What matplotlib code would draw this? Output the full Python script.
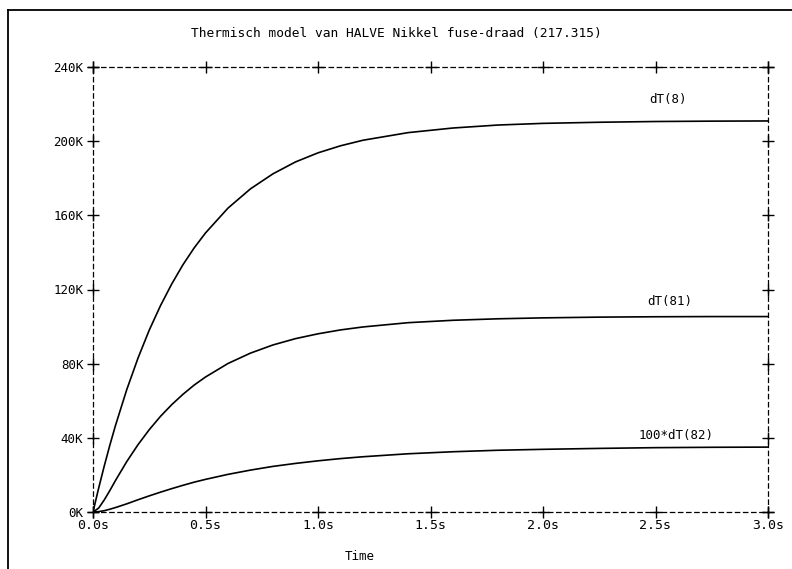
import matplotlib
matplotlib.use("Agg")
import matplotlib.pyplot as plt
from matplotlib.lines import Line2D

# ---- data ----
time_s = [0, 0.025, 0.05, 0.075, 0.1, 0.15, 0.2, 0.25, 0.3, 0.35, 0.4, 0.45, 0.5,
          0.6, 0.7, 0.8, 0.9, 1.0, 1.1, 1.2, 1.4, 1.6, 1.8, 2.0, 2.25, 2.5, 2.75, 3.0]
dT8 = [0, 12.8, 24.8, 36.1, 46.7, 66.0, 83.0, 98.1, 111.3, 123.0, 133.4, 142.5, 150.5,
       163.9, 174.3, 182.4, 188.8, 193.7, 197.5, 200.5, 204.6, 207.1, 208.7, 209.6,
       210.2, 210.6, 210.8, 210.9]
dT81 = [0, 2.1, 6.5, 11.6, 17.0, 27.2, 36.3, 44.4, 51.6, 57.9, 63.5, 68.5, 72.8,
        80.1, 85.7, 90.1, 93.5, 96.1, 98.2, 99.8, 102.1, 103.4, 104.2, 104.7,
        105.1, 105.3, 105.4, 105.4]
dT82x100 = [0, 0.2, 0.7, 1.5, 2.4, 4.4, 6.6, 8.7, 10.7, 12.6, 14.4, 16.1, 17.6,
            20.3, 22.6, 24.6, 26.2, 27.6, 28.8, 29.8, 31.4, 32.5, 33.3, 33.8,
            34.3, 34.7, 34.9, 35.0]
series_labels = ["dT(8)", "dT(81)", "100*dT(82)"]
x_ticks = [0.0, 0.5, 1.0, 1.5, 2.0, 2.5, 3.0]
x_tick_labels = ["0.0s", "0.5s", "1.0s", "1.5s", "2.0s", "2.5s", "3.0s"]
y_ticks = [0, 40, 80, 120, 160, 200, 240]
y_tick_labels = ["0K", "40K", "80K", "120K", "160K", "200K", "240K"]
title = "Thermisch model van HALVE Nikkel fuse-draad (217.315)"
x_label = "Time"

# ---- figure ----
plt.rcParams['font.family'] = ['DejaVu Sans Mono']
fig = plt.figure(figsize=(7.92, 5.69), dpi=100)
ax = fig.add_axes([93/792, 57/569, 675/792, 445/569])

for ys in (dT8, dT81, dT82x100):
    ax.plot(time_s, ys, color='black', lw=1.2, solid_capstyle='butt',
            solid_joinstyle='round')

ax.set_xlim(0, 3.0)
ax.set_ylim(0, 240)

for sp in ax.spines.values():
    sp.set_linestyle((0, (3.5, 3)))
    sp.set_linewidth(0.9)
    sp.set_color('black')

ax.set_xticks(x_ticks)
ax.set_xticklabels(x_tick_labels, fontsize=9.5)
ax.set_yticks(y_ticks)
ax.set_yticklabels(y_tick_labels, fontsize=9)
ax.tick_params(axis='both', length=0)
ax.tick_params(axis='x', pad=5)
ax.tick_params(axis='y', pad=7)

# "+" tick marks on all four sides
ms = 9
ax.plot(x_ticks, [0]*len(x_ticks), '+', color='black', ms=ms, mew=1.0, clip_on=False)
ax.plot(x_ticks, [240]*len(x_ticks), '+', color='black', ms=ms, mew=1.0, clip_on=False)
ax.plot([0]*len(y_ticks), y_ticks, '+', color='black', ms=ms, mew=1.0, clip_on=False)
ax.plot([3.0]*len(y_ticks), y_ticks, '+', color='black', ms=ms, mew=1.0, clip_on=False)

# curve labels
ax.text(2.556, 219, series_labels[0], ha='center', va='bottom', fontsize=9)
ax.text(2.564, 110, series_labels[1], ha='center', va='bottom', fontsize=9)
ax.text(2.59, 37.5, series_labels[2], ha='center', va='bottom', fontsize=9)

fig.text(0.5, 1 - 33/569, title, ha='center', va='center', fontsize=9.3)
fig.text(360/792, 1 - 556/569, x_label, ha='center', va='center', fontsize=9)

# outer frame (left and top edges)
fig.add_artist(Line2D([8/792, 8/792], [0, 1 - 10/569], transform=fig.transFigure,
                      color='black', lw=1.3))
fig.add_artist(Line2D([8/792, 1], [1 - 10/569, 1 - 10/569], transform=fig.transFigure,
                      color='black', lw=1.3))

fig.savefig("out.png", dpi=100)
